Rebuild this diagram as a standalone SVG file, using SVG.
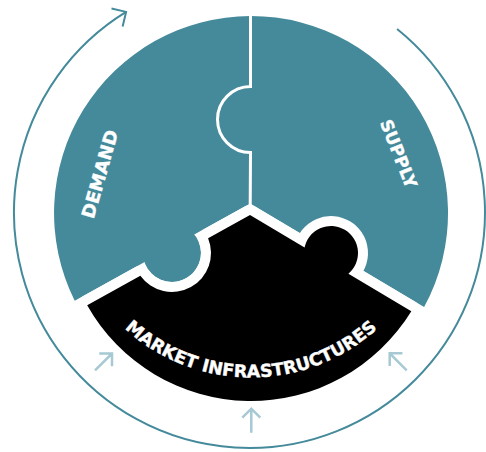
<svg xmlns="http://www.w3.org/2000/svg" width="486" height="452" viewBox="0 0 486 452">
<defs>
<style>
.teal{fill:#448a9b}
.lbl{font-family:"DejaVu Sans","Liberation Sans",sans-serif;font-weight:bold;fill:#ffffff;stroke:#ffffff;stroke-width:0.4}
.ring{fill:none;stroke:#448a9b;stroke-width:2}
.la{fill:none;stroke:#a6c9d3;stroke-width:2.5}
</style>
<marker id="ah" markerUnits="userSpaceOnUse" viewBox="-15 -15 30 30" markerWidth="30" markerHeight="30" refX="0" refY="0" orient="auto" overflow="visible">
<path d="M-10.6,-10.6 L0,0 L-10.6,10.6" fill="none" stroke="#448a9b" stroke-width="2"/>
</marker>
<path id="la" d="M0,24 V0 M-9,9 L0,0 L9,9"/>
<path id="arcText" d="M63.5,190 A187.5,187.5 0 0 0 438.5,190"/>
</defs>
<rect width="486" height="452" fill="#ffffff"/>
<g id="demand">
<path class="teal" d="M74.7,300.8 A197,197 0 0 1 250.5,16 L250.5,86.5 A33,33 0 0 0 250.5,152.5 L250.2,203.5 Z"/>
<circle class="teal" cx="172" cy="253" r="29"/>
<text class="lbl" font-size="18" text-anchor="middle" textLength="91" lengthAdjust="spacing" transform="translate(106,175.8) rotate(-74.2)">DEMAND</text>
</g>
<g id="supply">
<path class="teal" d="M250.5,16 A197,197 0 0 1 424.1,307.1 L250.2,203.5 L250.5,152.5 A33,33 0 0 1 250.5,86.5 Z"/>
<text class="lbl" font-size="17" text-anchor="middle" textLength="72" lengthAdjust="spacing" transform="translate(393,156) rotate(68.3)">SUPPLY</text>
</g>
<g id="divider">
<path d="M250.5,10 L250.5,86.5 A33,33 0 0 0 250.5,152.5 L250.2,206" fill="none" stroke="#ffffff" stroke-width="3"/>
</g>
<g id="market-infrastructures">
<path d="M250,215 L208.09,238.23 A39,39 0 0 1 140.35,275.78 L87.18,305.25 A188,188 0 0 0 411.34,311.16 L348.41,273.65 A27,27 0 1 0 304.56,247.52 Z" fill="#000000" stroke="#ffffff" stroke-width="20" stroke-linejoin="round" paint-order="stroke"/>
<text class="lbl" font-size="17.5"><textPath href="#arcText" startOffset="50%" text-anchor="middle">MARKET INFRASTRUCTURES</textPath></text>
</g>
<g id="connectors">
<path class="ring" d="M397.1,29 A235.5,235.5 0 1 1 126.1,11.9" marker-end="url(#ah)"/>
<use href="#la" class="la" transform="translate(112,353.5) rotate(45)"/>
<use href="#la" class="la" transform="translate(251.3,408.7)"/>
<use href="#la" class="la" transform="translate(389.7,353.3) rotate(-45)"/>
</g>
</svg>
